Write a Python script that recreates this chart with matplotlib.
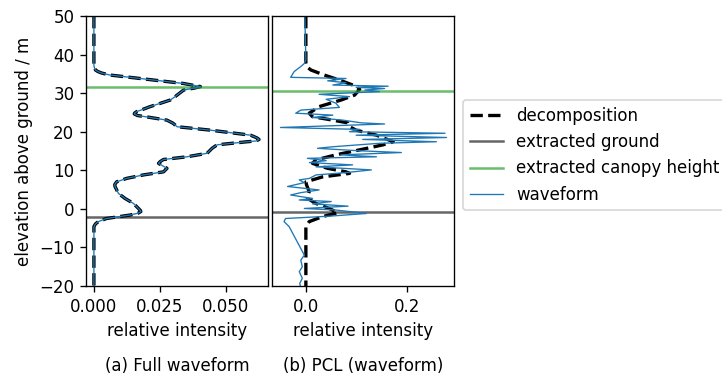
import numpy as np
import matplotlib
matplotlib.use("Agg")
import matplotlib.pyplot as plt

# full waveform (left panel), decomposition matches it
full_z = [50, 37.2, 36.5, 36.0, 35.6, 35.2, 34.7, 33.4, 32.5, 32.0, 31.7, 31.3, 30.8,
          29.1, 28.2, 26.5, 25.2, 24.8, 24.6, 24.2, 23.7, 23.0, 22.2, 21.3, 20.4, 19.1,
          18.4, 18.0, 17.6, 17.4, 16.6, 15.7, 14.4, 13.5, 12.8, 12.3, 11.8, 10.5, 9.6,
          8.8, 7.9, 7.0, 6.3, 5.8, 4.0, 2.7, 1.4, 0.1, -0.4, -0.7, -1.1, -1.6, -2.5,
          -3.3, -3.9, -4.6, -20]
full_wave = [0.0, 0.0, 0.0002, 0.0006, 0.0015, 0.003, 0.006, 0.0226, 0.034, 0.038,
             0.0404, 0.038, 0.034, 0.0308, 0.0289, 0.0213, 0.0162, 0.0154, 0.0153,
             0.0165, 0.0213, 0.0277, 0.030, 0.0315, 0.0442, 0.0594, 0.0618, 0.0626,
             0.0615, 0.0581, 0.0467, 0.0448, 0.0429, 0.0353, 0.0264, 0.0252, 0.0245,
             0.0277, 0.0264, 0.0188, 0.0124, 0.0086, 0.0079, 0.008, 0.0093, 0.0118, 0.015,
             0.0169, 0.0176, 0.0178, 0.0168, 0.0137, 0.0048, 0.0017, 0.0006, 0.0, 0.0]
full_ground = -2.0
full_canopy = 31.7

# PCL waveform (right panel)
pcl_dec_z = [50, 37.7, 36.9, 36.0, 34.7, 33.4, 32.1, 31.0, 29.5, 28.2, 26.5, 24.8, 23.9,
             23.0, 22.3, 21.3, 20.4, 19.1, 17.4, 16.6, 15.3, 14.0, 12.7, 11.8, 10.5, 9.6,
             9.2, 8.3, 7.0, 6.2, 4.5, 2.7, 1.4, 0.1, -1.0, -2.0, -3.3, -4.6, -20]
pcl_dec = [0.0, 0.0, 0.0013, 0.0099, 0.036, 0.066, 0.0924, 0.106, 0.096, 0.069, 0.026,
           0.0066, 0.013, 0.053, 0.0825, 0.086, 0.099, 0.139, 0.172, 0.152, 0.106, 0.059,
           0.0198, 0.013, 0.043, 0.079, 0.086, 0.033, 0.0, 0.0013, 0.0066, 0.0033, 0.0198,
           0.046, 0.063, 0.033, 0.0066, 0.0, 0.0]
pcl_z = [50, 38.6, 37.7, 36.9, 35.6, 34.1, 33.8, 33.2, 32.7, 32.1, 31.8, 31.5, 31.2, 30.8,
         30.4, 29.7, 29.1, 28.4, 27.4, 26.3, 25.6, 24.8, 24.3, 23.7, 23.0, 22.3, 22.0,
         21.1, 20.6, 20.0, 19.6, 19.1, 18.5, 18.0, 17.4, 17.0, 16.1, 15.7, 15.1, 14.6,
         14.0, 13.5, 13.1, 12.5, 12.0, 11.4, 10.9, 10.1, 9.4, 8.8, 7.9, 7.5, 6.8, 5.8,
         4.9, 4.2, 3.6, 2.7, 2.3, 1.9, 1.3, 0.7, 0.1, -0.3, -1.2, -1.9, -2.5, -3.3, -4.6,
         -12.0, -13.3, -15.0, -16.3, -18.0, -19.3, -20.5]
pcl_wave = [-0.002, 0.0, -0.003, -0.010, -0.023, -0.030, 0.079, 0.043, 0.079, 0.053,
            0.162, 0.099, 0.155, 0.116, 0.145, 0.026, 0.086, 0.040, 0.059, 0.066, -0.010,
            -0.020, 0.053, 0.013, 0.073, 0.109, 0.155, -0.050, 0.106, 0.086, 0.274, 0.099,
            0.277, 0.112, 0.257, 0.145, 0.053, 0.023, 0.099, 0.188, 0.069, 0.139, 0.003,
            0.040, 0.007, 0.092, 0.020, 0.129, 0.079, 0.020, 0.007, -0.013, -0.003, -0.036,
            0.026, -0.010, -0.030, 0.013, -0.013, 0.050, 0.013, 0.083, -0.003, 0.059,
            0.119, 0.046, -0.040, -0.043, -0.033, -0.003, -0.010, -0.007, -0.013, -0.007,
            -0.012, -0.010]
pcl_ground = -0.8
pcl_canopy = 30.6

DPI = 120
fig = plt.figure(figsize=(722 / DPI, 376 / DPI), dpi=DPI)
ax1 = fig.add_axes([86 / 722, 90 / 376, 182 / 722, 270 / 376])
ax2 = fig.add_axes([272 / 722, 90 / 376, 182 / 722, 270 / 376], sharey=ax1)

for ax, dz, dx, wz, wx, g, c in [
        (ax1, full_z, full_wave, full_z, full_wave, full_ground, full_canopy),
        (ax2, pcl_dec_z, pcl_dec, pcl_z, pcl_wave, pcl_ground, pcl_canopy)]:
    ax.plot(dx, dz, color='k', ls='--', lw=2, label='decomposition')
    ax.axhline(g, color='k', alpha=0.6, lw=1.5, label='extracted ground')
    ax.axhline(c, color='tab:green', alpha=0.7, lw=1.5, label='extracted canopy height')
    ax.plot(wx, wz, color='tab:blue', lw=0.8, label='waveform')
    ax.set_xlabel('relative intensity')

ax1.set_ylim(-20, 50)
ax1.set_xlim(-0.003, 0.066)
ax1.set_xticks([0.0, 0.025, 0.05])
ax1.set_xticklabels(['0.000', '0.025', '0.050'])
ax1.set_ylabel('elevation above ground / m')
ax2.set_xlim(-0.0667, 0.2917)
ax2.set_xticks([0.0, 0.2])
ax2.tick_params(axis='y', left=False, labelleft=False)

ax1.text(0.5, -0.296, '(a) Full waveform', transform=ax1.transAxes, ha='center', va='center')
ax2.text(0.5, -0.296, '(b) PCL (waveform)', transform=ax2.transAxes, ha='center', va='center')

fig.legend(*ax2.get_legend_handles_labels(), loc='upper left',
           bbox_to_anchor=(463 / 722, 1 - 100 / 376), borderaxespad=0)

fig.savefig('out.png', dpi=DPI)
